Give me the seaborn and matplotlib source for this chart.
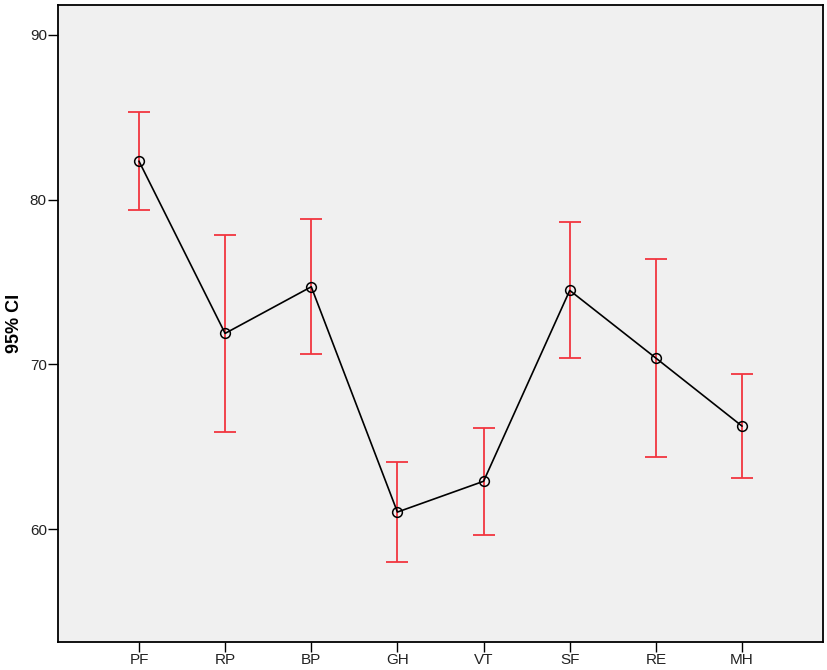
import matplotlib
matplotlib.use("Agg")
import matplotlib.pyplot as plt
import pandas as pd
import numpy as np
import seaborn as sb

# scale names and 95% CI values
scales = ["PF", "RP", "BP", "GH", "VT", "SF", "RE", "MH"]
means = [82.34, 71.88, 74.71, 61.03, 62.90, 74.49, 70.38, 66.25]
lower = [79.39, 65.89, 70.63, 58.00, 59.62, 70.38, 64.37, 63.11]
upper = [85.30, 77.87, 78.82, 64.07, 66.15, 78.64, 76.38, 69.39]

df = pd.DataFrame({"scale": scales, "mean": means, "lower": lower, "upper": upper})

sb.set_style("ticks")
plt.rcParams["font.family"] = ["Liberation Sans", "DejaVu Sans"]

fig = plt.figure(figsize=(8.27, 6.70), dpi=100)
ax = fig.add_axes([0.0701, 0.0418, 0.9251, 0.9507])
ax.set_facecolor("#F0F0F0")

# red CI bars
yerr = np.array([df["mean"] - df["lower"], df["upper"] - df["mean"]])
ax.errorbar(df["scale"], df["mean"], yerr=yerr, fmt="none", ecolor="#F2353F",
            elinewidth=1.3, capsize=7.7, capthick=1.3, zorder=2)

# black line with open circles
sb.lineplot(data=df, x="scale", y="mean", sort=False, color="black", linewidth=1.2,
            marker="o", markersize=7, markerfacecolor="none", markeredgecolor="black",
            markeredgewidth=1.1, ax=ax, zorder=3)

ax.set_xlim(-0.94, 7.94)
ax.set_ylim(53.14, 91.82)
ax.set_yticks([60, 70, 80, 90])
ax.set_xlabel("")
ax.set_ylabel("95% CI", fontsize=13, fontweight="bold", color="black", labelpad=5)
ax.tick_params(axis="both", direction="out", length=7, width=1, labelsize=11, pad=1,
               colors="black", labelcolor="#222222")

for side in ["top", "right", "bottom", "left"]:
    ax.spines[side].set_visible(True)
    ax.spines[side].set_color("black")
    ax.spines[side].set_linewidth(1.3)

fig.savefig("out.png", dpi=100, facecolor="white")
